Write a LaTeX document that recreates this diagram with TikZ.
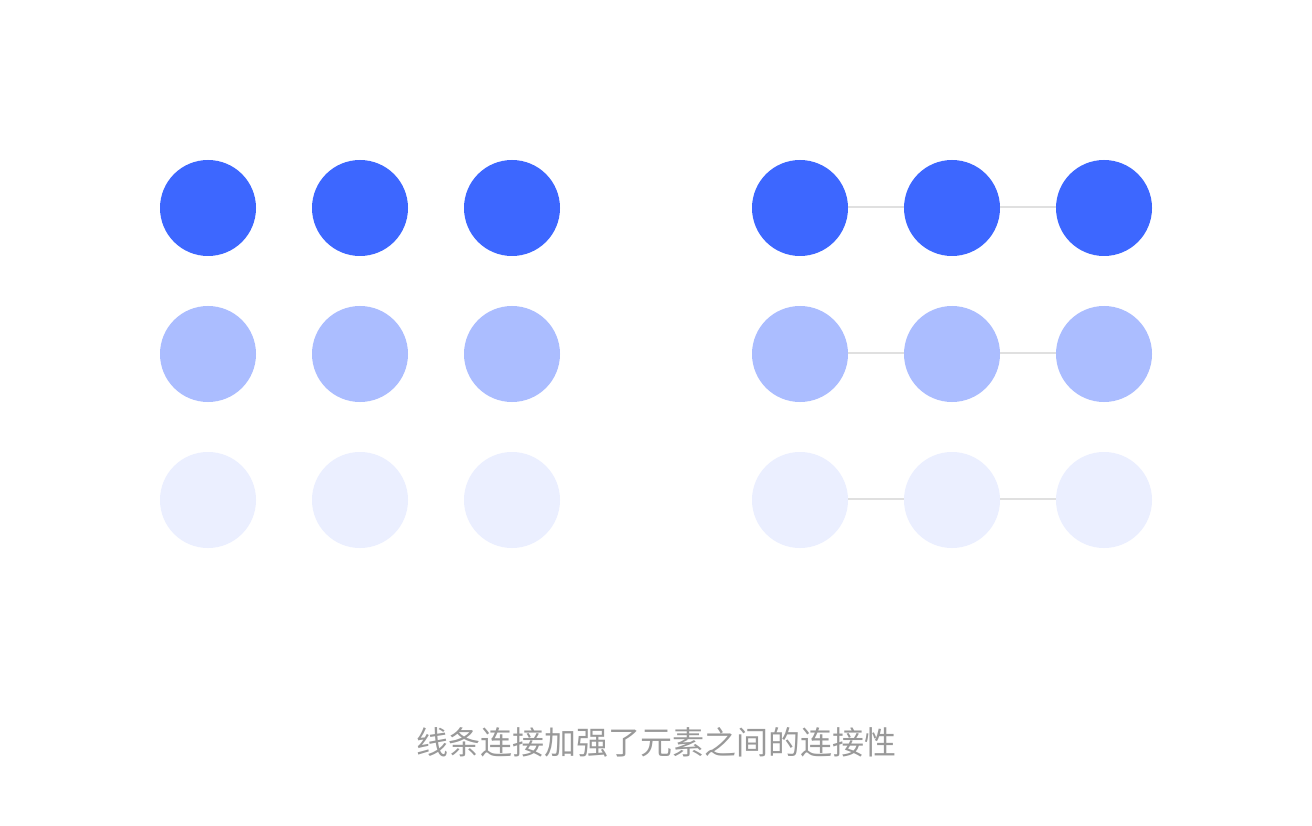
\documentclass[tikz,border=0pt]{standalone}
\usepackage{fontspec}
\newfontfamily\cjk{Noto Sans CJK SC}
\definecolor{dotdark}{HTML}{3D67FF}
\definecolor{dotmid}{HTML}{ABBDFF}
\definecolor{dotlight}{HTML}{EBEFFF}
\definecolor{linkgray}{HTML}{E0E0E0}
\definecolor{capgray}{HTML}{999999}
\tikzset{
    dot/.style={circle, minimum size=96pt, inner sep=0pt, fill=#1},
    link/.style={draw=linkgray, line width=1.5pt},
}
\begin{document}
\begin{tikzpicture}[x=1pt, y=-1pt]
                % 背景
                \useasboundingbox[fill=white] (0, 0) rectangle (1312, 826);

                % 左边: 没有线条
                \foreach \r / \y / \c in {1/208/dotdark, 2/354/dotmid, 3/500/dotlight} {
                    \foreach \k / \x in {1/208, 2/360, 3/512} {
                        \node[dot=\c] (L\r\k) at (\x, \y) {};
                    }
                }

                % 右边: 用线条连接
                \foreach \r / \y / \c in {1/208/dotdark, 2/354/dotmid, 3/500/dotlight} {
                    \foreach \k / \x in {1/800, 2/952, 3/1104} {
                        \node[dot=\c] (R\r\k) at (\x, \y) {};
                    }
                    \draw[link] ([yshift=1pt]R\r1.east) -- ([yshift=1pt]R\r2.west);
                    \draw[link] ([yshift=1pt]R\r2.east) -- ([yshift=1pt]R\r3.west);
                }

                % 说明文字
                \node[text=capgray, font=\cjk\fontsize{32pt}{38pt}\selectfont] (caption) at (656, 742) {线条连接加强了元素之间的连接性};

\end{tikzpicture}
\end{document}
